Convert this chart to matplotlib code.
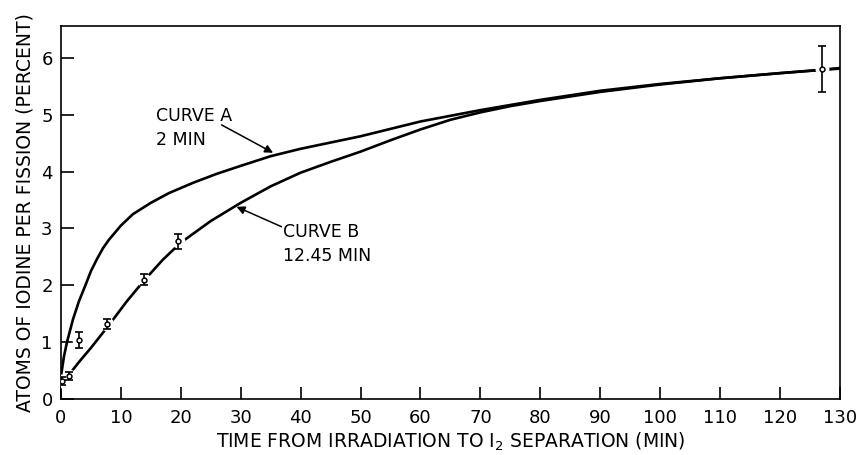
import matplotlib
matplotlib.use("Agg")
import matplotlib.pyplot as plt

# Curve A (2 min)
curve_a_x = [0, 0.5, 1, 1.5, 2, 3, 4, 5, 6, 7, 8, 10, 12, 15, 18, 22, 26, 30, 35, 40,
             50, 60, 70, 80, 90, 100, 110, 120, 130]
curve_a_y = [0.4, 0.75, 1.0, 1.2, 1.4, 1.72, 1.98, 2.25, 2.46, 2.65, 2.8, 3.05, 3.25, 3.45,
             3.62, 3.8, 3.96, 4.1, 4.27, 4.4, 4.62, 4.88, 5.08, 5.26, 5.42, 5.54, 5.64,
             5.73, 5.81]

# Curve B (12.45 min)
curve_b_x = [0, 1.5, 3, 5, 8, 11, 14, 17, 20, 25, 30, 35, 40, 45, 50, 55, 60, 65, 70,
             75, 80, 90, 100, 110, 120, 127, 130]
curve_b_y = [0.3, 0.45, 0.65, 0.9, 1.3, 1.72, 2.1, 2.45, 2.75, 3.13, 3.45, 3.74, 3.98,
             4.17, 4.35, 4.55, 4.74, 4.91, 5.04, 5.15, 5.24, 5.4, 5.53, 5.64, 5.73,
             5.79, 5.82]

# measured points with error bars
pt_x = [0.2, 1.3, 3, 7.7, 13.8, 19.5, 127]
pt_y = [0.32, 0.4, 1.03, 1.32, 2.1, 2.77, 5.8]
pt_err = [0.07, 0.07, 0.14, 0.09, 0.1, 0.14, 0.4]

fig = plt.figure(figsize=(8.65, 4.55), dpi=100)
ax = fig.add_axes([0.0705, 0.123, 0.9005, 0.820])

ax.plot(curve_a_x, curve_a_y, color="black", lw=1.9, solid_capstyle="butt", zorder=2)
ax.plot(curve_b_x, curve_b_y, color="black", lw=1.9, solid_capstyle="butt", zorder=2)

# white ring clears the line around each point (line is broken in the original)
ax.plot(pt_x, pt_y, "o", ms=10, mfc="white", mec="none", zorder=3)
ax.errorbar(pt_x, pt_y, yerr=pt_err, fmt="none", ecolor="black", elinewidth=1.2,
            capsize=2.8, capthick=1.2, zorder=4)
ax.plot(pt_x, pt_y, "o", ms=3.5, mfc="white", mec="black", mew=1.1, zorder=5)

ax.set_xlim(0, 130)
ax.set_ylim(0, 6.56)
ax.set_xticks(range(0, 131, 10))
ax.set_yticks(range(0, 7))
ax.tick_params(direction="in", length=9, width=1.2, labelsize=13, pad=6)
ax.tick_params(axis="x", pad=7)
for s in ax.spines.values():
    s.set_linewidth(1.2)

ax.set_xlabel("TIME FROM IRRADIATION TO I$_{2}$ SEPARATION (MIN)", fontsize=13.5,
              labelpad=3)
ax.set_ylabel("ATOMS OF IODINE PER FISSION (PERCENT)", fontsize=13.5, labelpad=5)

ax.text(15.9, 5.14, "CURVE A\n2 MIN", fontsize=12.5, va="top", linespacing=1.45)
ax.annotate("", xy=(35.4, 4.33), xytext=(26.8, 4.82),
            arrowprops=dict(arrowstyle="-|>", color="black", lw=1.1,
                            mutation_scale=12, shrinkA=0, shrinkB=0))
ax.text(37, 3.1, "CURVE B\n12.45 MIN", fontsize=12.5, va="top", linespacing=1.45)
ax.annotate("", xy=(29.3, 3.38), xytext=(36.8, 3.03),
            arrowprops=dict(arrowstyle="-|>", color="black", lw=1.1,
                            mutation_scale=12, shrinkA=0, shrinkB=0))

fig.savefig("out.png", dpi=100)
